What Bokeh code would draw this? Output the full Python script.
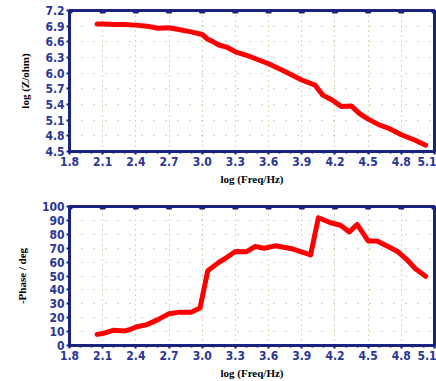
from bokeh.plotting import figure
from bokeh.layouts import column
from bokeh.models import FixedTicker, Range1d
from bokeh.embed import file_html
from bokeh.resources import INLINE

# ---- data ----
freq_z = [2.05, 2.1, 2.2, 2.3, 2.4, 2.5, 2.6, 2.7, 2.8, 2.9, 3.0, 3.05, 3.1, 3.15,
          3.22, 3.3, 3.43, 3.6, 3.72, 3.9, 4.02, 4.09, 4.17, 4.26, 4.35, 4.42,
          4.5, 4.6, 4.69, 4.8, 4.93, 5.02]
logz = [6.94, 6.94, 6.93, 6.93, 6.92, 6.90, 6.86, 6.87, 6.83, 6.79, 6.74, 6.65, 6.60, 6.54,
        6.50, 6.41, 6.32, 6.18, 6.06, 5.87, 5.77, 5.58, 5.49, 5.36, 5.37, 5.23,
        5.12, 5.01, 4.94, 4.82, 4.71, 4.62]

freq_p = [2.05, 2.1, 2.2, 2.3, 2.35, 2.4, 2.5, 2.6, 2.7, 2.8, 2.9, 2.98, 3.05, 3.15,
          3.22, 3.3, 3.4, 3.48, 3.56, 3.66, 3.8, 3.98, 4.05, 4.16, 4.25, 4.33,
          4.4, 4.5, 4.58, 4.68, 4.77, 4.86, 4.93, 5.02]
phase = [8.0, 8.6, 11.0, 10.5, 11.5, 13.3, 15.0, 18.6, 22.9, 24.0, 24.0, 27.0, 53.8, 59.8,
         63.3, 67.6, 67.5, 71.2, 70.0, 71.7, 69.8, 65.2, 91.9, 88.3, 86.5, 81.7,
         87.1, 75.2, 75.2, 71.2, 67.4, 61.0, 55.0, 49.8]

x_ticks = [1.8, 2.1, 2.4, 2.7, 3.0, 3.3, 3.6, 3.9, 4.2, 4.5, 4.8, 5.1]
z_ticks = [4.5, 4.8, 5.1, 5.4, 5.7, 6.0, 6.3, 6.6, 6.9, 7.2]
p_ticks = [0, 10, 20, 30, 40, 50, 60, 70, 80, 90, 100]

NAVY = "#1a2380"
LABEL = "#2a3596"
TICKFONT = "Liberation Sans Narrow, DejaVu Sans Condensed, sans-serif"


def make(xs, ys, yr, yticks, ylabel, h, top, bottom, fmt):
    p = figure(width=436, height=h, x_range=Range1d(1.8, 5.1), y_range=Range1d(*yr),
               output_backend="svg", toolbar_location=None,
               min_border_left=69, min_border_right=2,
               min_border_top=top, min_border_bottom=bottom)
    p.outline_line_color = NAVY
    p.outline_line_width = 3
    p.background_fill_color = "white"
    p.border_fill_color = "white"

    p.xaxis.ticker = FixedTicker(ticks=x_ticks,
                                 minor_ticks=[round(1.8 + 0.1 * i, 2) for i in range(34)])
    p.yaxis.ticker = FixedTicker(ticks=yticks)
    p.xaxis.major_label_overrides = {t: f"{t:.1f}" for t in x_ticks}
    p.yaxis.major_label_overrides = {t: fmt(t) for t in yticks}

    for ax in p.xaxis + p.yaxis:
        ax.axis_line_color = NAVY
        ax.axis_line_width = 3
        ax.major_tick_line_color = NAVY
        ax.major_tick_line_width = 2
        ax.major_tick_out = 3
        ax.major_tick_in = 0
        ax.minor_tick_line_color = NAVY
        ax.minor_tick_line_width = 2
        ax.minor_tick_out = 2
        ax.minor_tick_in = 0
        ax.major_label_text_color = LABEL
        ax.major_label_text_font = TICKFONT
        ax.major_label_text_font_style = "bold"
        ax.major_label_text_font_size = "12px"
        ax.major_label_standoff = 2
        ax.axis_label_text_font = "Liberation Serif"
        ax.axis_label_text_font_style = "bold"
        ax.axis_label_text_font_size = "11px"
        ax.axis_label_text_color = "black"

    p.xaxis.axis_label = "log (Freq/Hz)"
    p.xaxis.axis_label_standoff = 4
    p.yaxis.axis_label = ylabel
    p.yaxis.axis_label_standoff = 11

    for g in p.xgrid:
        g.grid_line_color = "#a8a860"
        g.grid_line_dash = "1 4"
        g.grid_line_alpha = 0.9
    for g in p.ygrid:
        g.grid_line_color = "#a0a090"
        g.grid_line_dash = "1 11"
        g.grid_line_alpha = 0.9

    # top-edge tick marks at the major x ticks
    p.scatter(x_ticks, [yr[1]] * len(x_ticks), marker="square", size=5,
              fill_color=NAVY, line_color=NAVY)

    p.line(xs, ys, line_color="#ff0000", line_width=5, line_join="round", line_cap="round")
    return p


p1 = make(freq_z, logz, (4.5, 7.2), z_ticks, "log (Z/ohm)", 190, 10, 39, lambda t: f"{t:.1f}")
p2 = make(freq_p, phase, (0, 100), p_ticks, "-Phase / deg", 191, 16, 34, lambda t: f"{t:d}")

layout = column(p1, p2, spacing=0)
open("out.html", "w").write(file_html(layout, INLINE))
